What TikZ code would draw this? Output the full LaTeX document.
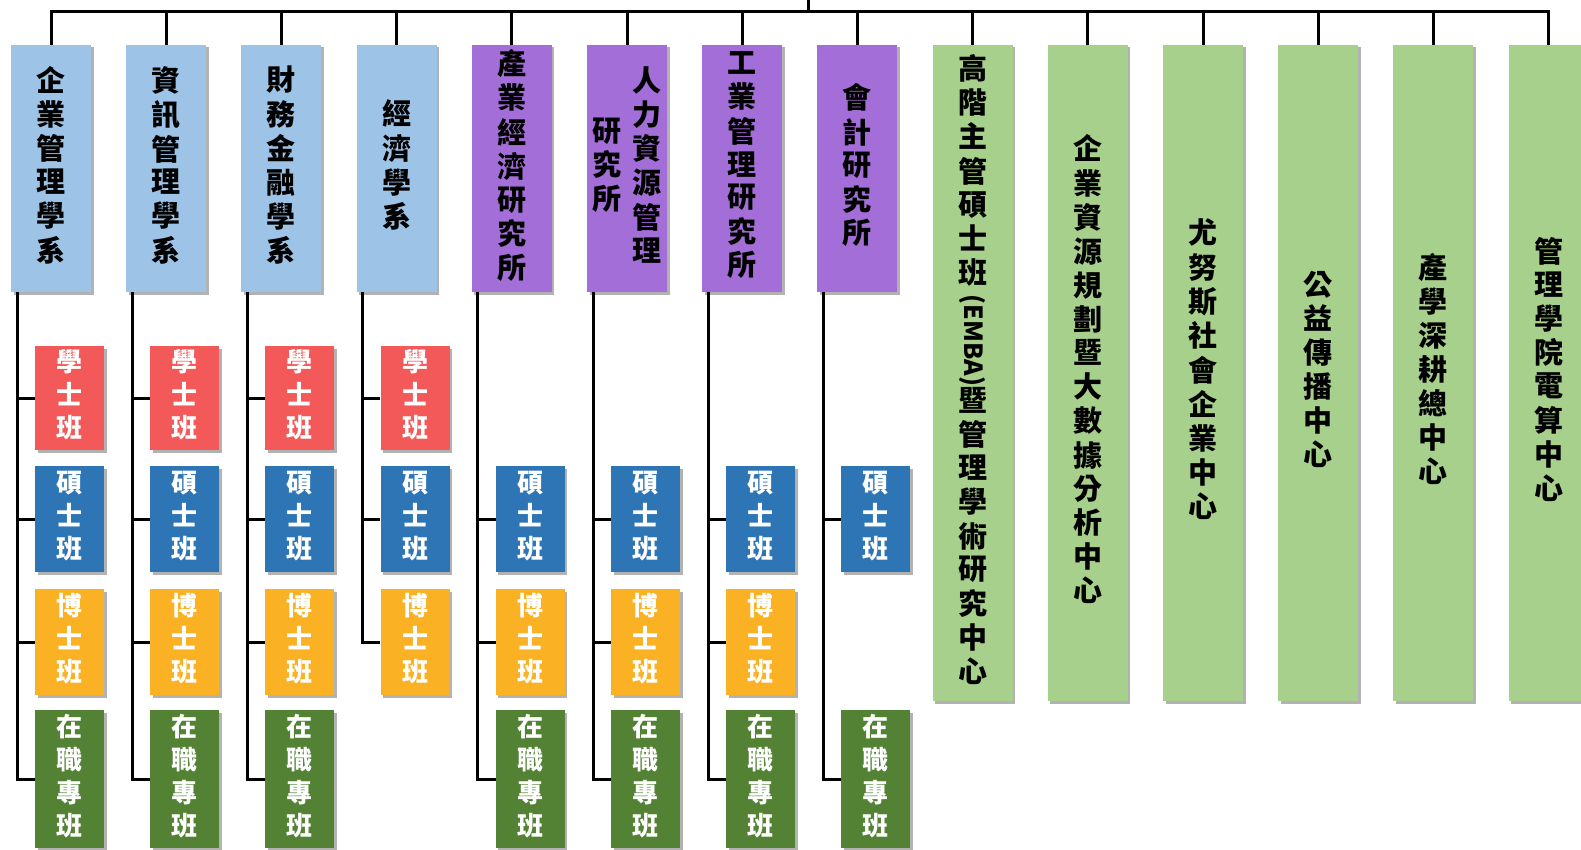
\documentclass[tikz,border=0pt]{standalone}
\usepackage{fontspec}
\usepackage{graphicx}
\newfontfamily\cjk{Noto Sans CJK TC}
\usetikzlibrary{shadows}
\definecolor{lblue}{HTML}{9DC3E6}
\definecolor{lpurple}{HTML}{A46ED8}
\definecolor{lgreen}{HTML}{A8D08D}
\definecolor{cred}{HTML}{F35959}
\definecolor{cblue}{HTML}{2E75B6}
\definecolor{corange}{HTML}{FBB124}
\definecolor{cgreen}{HTML}{548235}
\newcommand{\vstk}[1]{\begin{tabular}{@{}c@{}}#1\end{tabular}}
\tikzset{
  conn/.style={line width=3pt, black},
  shd/.style={drop shadow={shadow xshift=2.5pt, shadow yshift=-2.5pt, fill=black, opacity=0.3}},
  unit/.style={shd, minimum width=80pt, inner sep=0pt, text=black,
    font=\cjk\bfseries\fontsize{29}{31}\selectfont},
  dept/.style={unit, fill=lblue, minimum height=247pt},
  inst/.style={unit, fill=lpurple, minimum height=247pt},
  cent/.style={unit, fill=lgreen, minimum height=656pt},
  prog/.style={shd, minimum width=69pt, inner sep=0pt, text=white,
    font=\cjk\bfseries\fontsize{26}{33}\selectfont},
  bach/.style={prog, fill=cred, minimum height=104pt},
  mast/.style={prog, fill=cblue, minimum height=106pt},
  phd/.style={prog, fill=corange, minimum height=106pt},
  emp/.style={prog, fill=cgreen, minimum height=138pt},
}
\begin{document}
\begin{tikzpicture}[x=1pt, y=-1pt]
\useasboundingbox (0,0) rectangle (1581,850);
% top-level units
\node[dept] (t1) at (51,168.5) {\vstk{企\\業\\管\\理\\學\\系}};
\node[dept] (t2) at (166.2,168.5) {\vstk{資\\訊\\管\\理\\學\\系}};
\node[dept] (t3) at (281.4,168.5) {\vstk{財\\務\\金\\融\\學\\系}};
\node[dept] (t4) at (396.6,168.5) {\vstk{經\\濟\\學\\系}};
\node[inst] (t5) at (511.8,168.5) {\vstk{產\\業\\經\\濟\\研\\究\\所}};
\node[inst] (t6) at (627,168.5) {\begin{tabular}{@{}c@{\hspace{11pt}}c@{}}\vstk{研\\究\\所} & \vstk{人\\力\\資\\源\\管\\理}\end{tabular}};
\node[inst] (t7) at (742.2,168.5) {\vstk{工\\業\\管\\理\\研\\究\\所}};
\node[inst] (t8) at (857.4,168.5) {\vstk{會\\計\\研\\究\\所}};
\node[cent] (t9) at (972.6,373) {\vstk{高\\階\\主\\管\\碩\\士\\班\\\rotatebox[origin=c]{-90}{\fontsize{25}{31}\selectfont\hspace{2pt}(EMBA)\hspace{1pt}}\\暨\\管\\理\\學\\術\\研\\究\\中\\心}};
\node[cent] (t10) at (1087.8,373) {\vstk{企\\業\\資\\源\\規\\劃\\暨\\大\\數\\據\\分\\析\\中\\心}};
\node[cent] (t11) at (1203,373) {\vstk{尤\\努\\斯\\社\\會\\企\\業\\中\\心}};
\node[cent] (t12) at (1318.2,373) {\vstk{公\\益\\傳\\播\\中\\心}};
\node[cent] (t13) at (1433.4,373) {\vstk{產\\學\\深\\耕\\總\\中\\心}};
\node[cent] (t14) at (1548.6,373) {\vstk{管\\理\\學\\院\\電\\算\\中\\心}};
% programmes
\node[bach] (t1a) at (69.5,398) {\vstk{學\\士\\班}};
\node[mast] (t1b) at (69.5,519) {\vstk{碩\\士\\班}};
\node[phd]  (t1c) at (69.5,642) {\vstk{博\\士\\班}};
\node[emp]  (t1d) at (69.5,779) {\vstk{在\\職\\專\\班}};
\node[bach] (t2a) at (184.7,398) {\vstk{學\\士\\班}};
\node[mast] (t2b) at (184.7,519) {\vstk{碩\\士\\班}};
\node[phd]  (t2c) at (184.7,642) {\vstk{博\\士\\班}};
\node[emp]  (t2d) at (184.7,779) {\vstk{在\\職\\專\\班}};
\node[bach] (t3a) at (299.9,398) {\vstk{學\\士\\班}};
\node[mast] (t3b) at (299.9,519) {\vstk{碩\\士\\班}};
\node[phd]  (t3c) at (299.9,642) {\vstk{博\\士\\班}};
\node[emp]  (t3d) at (299.9,779) {\vstk{在\\職\\專\\班}};
\node[bach] (t4a) at (415.1,398) {\vstk{學\\士\\班}};
\node[mast] (t4b) at (415.1,519) {\vstk{碩\\士\\班}};
\node[phd]  (t4c) at (415.1,642) {\vstk{博\\士\\班}};
\node[mast] (t5b) at (530.3,519) {\vstk{碩\\士\\班}};
\node[phd]  (t5c) at (530.3,642) {\vstk{博\\士\\班}};
\node[emp]  (t5d) at (530.3,779) {\vstk{在\\職\\專\\班}};
\node[mast] (t6b) at (645.5,519) {\vstk{碩\\士\\班}};
\node[phd]  (t6c) at (645.5,642) {\vstk{博\\士\\班}};
\node[emp]  (t6d) at (645.5,779) {\vstk{在\\職\\專\\班}};
\node[mast] (t7b) at (760.7,519) {\vstk{碩\\士\\班}};
\node[phd]  (t7c) at (760.7,642) {\vstk{博\\士\\班}};
\node[emp]  (t7d) at (760.7,779) {\vstk{在\\職\\專\\班}};
\node[mast] (t8b) at (875.9,519) {\vstk{碩\\士\\班}};
\node[emp]  (t8d) at (875.9,779) {\vstk{在\\職\\專\\班}};
% top bus
\coordinate (root) at (808,0);
\coordinate (bus) at (808,12);
\draw[conn] (root) -- (bus);
\foreach \i in {1,...,14} { \draw[conn] (bus) -| (t\i.north); }
% programme spines
\foreach \p/\c in {t1/t1a,t1/t1b,t1/t1c,t1/t1d,t2/t2a,t2/t2b,t2/t2c,t2/t2d,
  t3/t3a,t3/t3b,t3/t3c,t3/t3d,t4/t4a,t4/t4b,t4/t4c,
  t5/t5b,t5/t5c,t5/t5d,t6/t6b,t6/t6c,t6/t6d,t7/t7b,t7/t7c,t7/t7d,t8/t8b,t8/t8d}
  { \draw[conn] ([xshift=-34pt]\p.south) |- (\c.west); }
\end{tikzpicture}
\end{document}
